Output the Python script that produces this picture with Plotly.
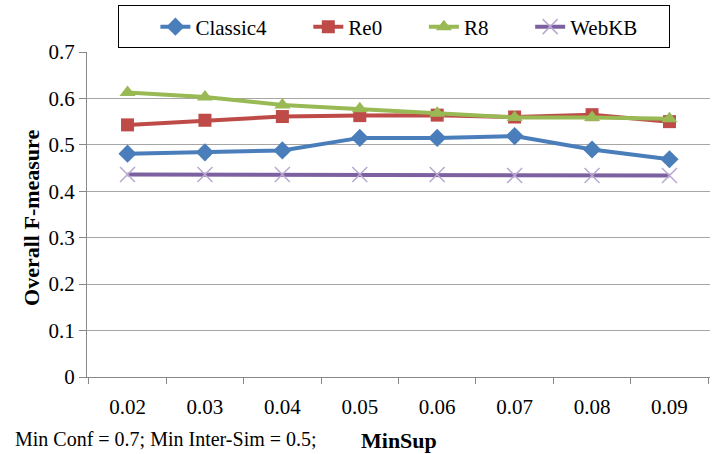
import plotly.graph_objects as go

minsup = ["0.02", "0.03", "0.04", "0.05", "0.06", "0.07", "0.08", "0.09"]
classic4 = [0.481, 0.484, 0.488, 0.515, 0.515, 0.519, 0.490, 0.469]
re0 = [0.543, 0.553, 0.561, 0.563, 0.564, 0.560, 0.565, 0.550]
r8 = [0.613, 0.603, 0.586, 0.578, 0.568, 0.559, 0.559, 0.556]
webkb = [0.436, 0.436, 0.436, 0.436, 0.436, 0.434, 0.434, 0.434]

font = "Liberation Serif"
pad = "\u00a0" * 7

fig = go.Figure()
fig.add_trace(go.Scatter(x=minsup, y=classic4, name="Classic4" + pad, mode="lines+markers",
                         line=dict(color="#4A7EBB", width=4),
                         marker=dict(symbol="diamond", size=14, color="#4A7EBB")))
fig.add_trace(go.Scatter(x=minsup, y=re0, name="Re0" + pad, mode="lines+markers",
                         line=dict(color="#BE4B48", width=4),
                         marker=dict(symbol="square", size=13, color="#BE4B48")))
fig.add_trace(go.Scatter(x=minsup, y=r8, name="R8" + pad, mode="lines+markers",
                         line=dict(color="#98B954", width=4),
                         marker=dict(symbol="triangle-up", size=14, color="#98B954")))
fig.add_trace(go.Scatter(x=minsup, y=webkb, name="WebKB" + "\u00a0" * 5, mode="lines+markers",
                         line=dict(color="#7D60A0", width=4),
                         marker=dict(symbol="x-thin", size=15,
                                     line=dict(color="#B9A8D0", width=1.5))))

fig.update_layout(
    width=713, height=454,
    margin=dict(l=87, r=3, t=52, b=77, autoexpand=False),
    paper_bgcolor="white", plot_bgcolor="white",
    font=dict(family=font, size=21, color="black"),
    showlegend=True,
    legend=dict(orientation="h", x=0.05, xanchor="left", y=1.077, yanchor="middle",
                bordercolor="black", borderwidth=1, bgcolor="white",
                font=dict(size=21, family=font),
                title=dict(text="\u00a0" * 5, side="left", font=dict(size=21, family=font))),
    xaxis=dict(type="category", tickson="boundaries", ticks="outside", ticklen=6,
               tickcolor="#888888", showline=True, linecolor="#888888", linewidth=1,
               showgrid=False, tickfont=dict(size=21, family=font),
               ticklabelstandoff=11),
    yaxis=dict(range=[0, 0.7], ticks="outside", ticklen=7,
               tickcolor="#888888", showline=True, linecolor="#888888", linewidth=1,
               showgrid=True, gridcolor="#A6A6A6", gridwidth=1, zeroline=False,
               tickfont=dict(size=21, family=font),
               tickvals=[0, 0.1, 0.2, 0.3, 0.4, 0.5, 0.6, 0.7],
               ticktext=["0", "0.1", "0.2", "0.3", "0.4", "0.5", "0.6", "0.7"]),
    annotations=[
        dict(text="<b>Overall F-measure</b>", xref="paper", yref="paper",
             x=-0.088, y=0.49, textangle=-90, showarrow=False,
             xanchor="center", yanchor="middle", font=dict(size=22, family=font)),
        dict(text="<b>MinSup</b>", xref="paper", yref="paper",
             x=0.501, y=-0.196, showarrow=False, xanchor="center", yanchor="middle",
             font=dict(size=22, family=font)),
        dict(text="Min Conf = 0.7; Min Inter-Sim = 0.5;", xref="paper", yref="paper",
             x=-0.119, y=-0.19, showarrow=False, xanchor="left", yanchor="middle",
             font=dict(size=20, family=font)),
    ],
)

fig.write_html("out.html")
